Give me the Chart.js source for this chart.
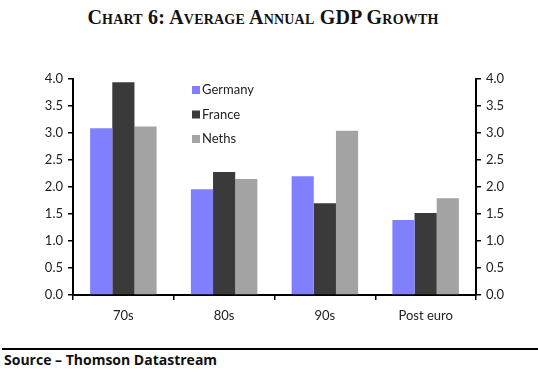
<!DOCTYPE html>
<html><head><meta charset="utf-8">
<script src="https://cdn.jsdelivr.net/npm/chart.js@4.4.1/dist/chart.umd.min.js"></script>
<style>
html,body{margin:0;padding:0;background:#fff;width:538px;height:375px;overflow:hidden;}
#title{position:absolute;left:0;top:6px;width:526px;text-align:center;font-family:"Liberation Serif",serif;font-weight:bold;font-variant:small-caps;font-size:20px;color:#111;letter-spacing:0.2px;}
#wrap{position:absolute;left:0;top:0;width:538px;height:340px;}
#rule{position:absolute;left:2px;top:348px;width:536px;height:2px;background:#000;}
#source{position:absolute;left:4px;top:350px;font-family:"Open Sans",sans-serif;font-weight:bold;font-size:14px;color:#111;}
</style></head>
<body>
<div id="title">Chart 6: Average Annual GDP Growth</div>
<div id="wrap"><canvas id="c"></canvas></div>
<div id="rule"></div>
<div id="source">Source – Thomson Datastream</div>
<script>
const categories = ["70s", "80s", "90s", "Post euro"];
const germany = [3.09, 1.96, 2.20, 1.39];
const france  = [3.94, 2.28, 1.70, 1.52];
const neths   = [3.12, 2.15, 3.04, 1.79];
const seriesNames = ["Germany", "France", "Neths"];
const yTicks = [0, 0.5, 1.0, 1.5, 2.0, 2.5, 3.0, 3.5, 4.0];

const colors = ["#8080ff", "#3a3a3a", "#a3a3a3"];
const tickFont = {family: "Lato, 'Open Sans', sans-serif", size: 13};

const legendPlugin = {
  id: 'insideLegend',
  afterDraw(chart) {
    const ctx = chart.ctx;
    const ca = chart.chartArea;
    ctx.save();
    ctx.font = "13px Lato, 'Open Sans', sans-serif";
    ctx.textBaseline = 'middle';
    chart.data.datasets.forEach((ds, i) => {
      const x = ca.left + 119, y = ca.top + 11 + i * 24.5;
      ctx.fillStyle = ds.backgroundColor;
      ctx.fillRect(x, y - 4, 8, 8);
      ctx.fillStyle = '#222';
      ctx.fillText(ds.label, x + 10, y);
    });
    ctx.restore();
  }
};

const yAxisCommon = {
  min: 0, max: 4,
  afterBuildTicks: (axis) => { axis.ticks = yTicks.map(v => ({value: v})); },
  ticks: {font: tickFont, color: '#222', padding: 5, callback: v => Number(v).toFixed(1)},
  grid: {drawOnChartArea: false, drawTicks: true, tickLength: 5, color: '#000', lineWidth: 1.5},
  border: {display: true, color: '#000', width: 2}
};

new Chart(document.getElementById('c'), {
  type: 'bar',
  data: {
    labels: categories,
    datasets: [
      {label: seriesNames[0], data: germany, backgroundColor: colors[0], yAxisID: 'y'},
      {label: seriesNames[1], data: france, backgroundColor: colors[1], yAxisID: 'y'},
      {label: seriesNames[2], data: neths, backgroundColor: colors[2], yAxisID: 'y'}
    ]
  },
  options: {
    responsive: true, maintainAspectRatio: false, animation: false,
    categoryPercentage: 0.66, barPercentage: 1.0,
    layout: {padding: {top: 79, left: 0, right: 0, bottom: 0}},
    plugins: {legend: {display: false}, tooltip: {enabled: false}, title: {display: false}},
    scales: {
      x: {
        offset: true,
        grid: {offset: true, drawOnChartArea: false, drawTicks: true, tickLength: 5, color: '#000', lineWidth: 1.5},
        border: {display: true, color: '#000', width: 2},
        ticks: {font: tickFont, color: '#222', padding: 8},
        afterFit: (s) => { s.height = 45; }
      },
      y: Object.assign({}, yAxisCommon, {position: 'left', afterFit: (s) => { s.width = 73; }}),
      y2: Object.assign({}, yAxisCommon, {position: 'right', afterFit: (s) => { s.width = 62; }})
    }
  },
  plugins: [legendPlugin]
});
</script>
</body></html>
